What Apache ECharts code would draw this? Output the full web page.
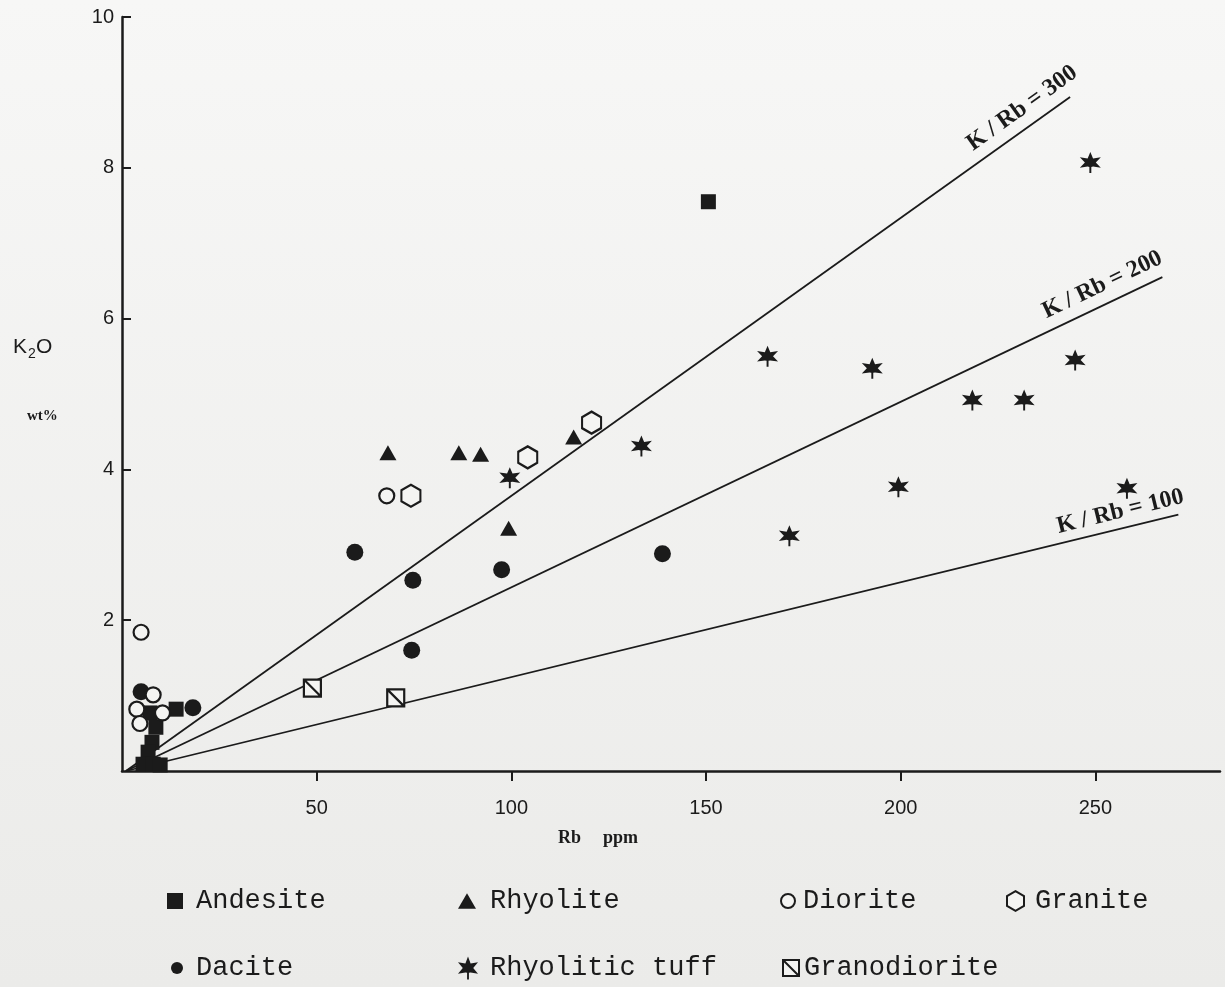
<!DOCTYPE html>
<html>
<head>
<meta charset="utf-8">
<script src="https://cdn.jsdelivr.net/npm/echarts@6/dist/echarts.min.js"></script>
<style>
  html, body { margin: 0; padding: 0; background: #f3f3f1; }
  #chart { width: 1225px; height: 987px; }
</style>
</head>
<body>
<div id="chart"></div>
<script>
// Rb (ppm) against K2O (wt%) for each rock type: [Rb, K2O]
const andesite = [[150.6, 7.55], [13.9, 0.82], [7.2, 0.77], [8.7, 0.58], [7.7, 0.38], [6.7, 0.25], [5.4, 0.09], [8.0, 0.09], [9.8, 0.08]];
const rhyolite = [[68.3, 4.22], [86.5, 4.22], [92.1, 4.20], [99.3, 3.22], [116.0, 4.43]];
const diorite = [[4.9, 1.84], [8.0, 1.01], [3.8, 0.82], [10.4, 0.77], [4.6, 0.63], [68.0, 3.65]];
const granite = [[74.2, 3.65], [104.2, 4.16], [120.6, 4.62]];
const dacite = [[59.8, 2.90], [74.7, 2.53], [97.5, 2.67], [138.8, 2.88], [74.4, 1.60], [4.9, 1.05], [18.2, 0.84]];
const rhyoliticTuff = [[248.7, 8.07], [165.8, 5.50], [192.7, 5.34], [99.6, 3.89], [133.4, 4.31], [218.4, 4.92], [231.7, 4.92], [244.8, 5.45], [199.4, 3.77], [171.4, 3.12], [258.1, 3.75]];
const granodiorite = [[48.9, 1.10], [70.3, 0.97]];

// Constant K/Rb ratio lines: [start, end] in [Rb, K2O]
const ratio300 = [[1, 0], [243.5, 8.94]];
const ratio200 = [[1, 0], [267.2, 6.55]];
const ratio100 = [[1, 0], [271.3, 3.40]];

// Axis tick values
const xTicks = [50, 100, 150, 200, 250];
const yTicks = [2, 4, 6, 8, 10];

// Legend entries: name, left, top, icon width, icon height, gap before the text
const legendItems = [
  ['Andesite', 162, 881, 16, 16, 8],
  ['Rhyolite', 453, 881, 18, 16, 9],
  ['Diorite', 775, 881, 14, 14, 3],
  ['Granite', 1001, 881, 17, 20, 6],
  ['Dacite', 166, 948, 12, 12, 8],
  ['Rhyolitic tuff', 453, 948, 20, 24, 7],
  ['Granodiorite', 777, 948, 16, 16, 0]
];

const INK = '#1b1b1b';
const PAPER = '#f4f4f2';

const SQUARE = 'path://M0 0 L20 0 L20 20 L0 20 Z';
const TRIANGLE = 'path://M10 0 L20 17 L0 17 Z';
const HEXAGON = 'path://M10 0 L18.66 5 L18.66 15 L10 20 L1.34 15 L1.34 5 Z';
const STAR = 'path://M10 0 L12.25 6.1 L18.66 5 L14.5 10 L18.66 15 L12.25 13.9 L10.8 14.2 L10.8 20 L9.2 20 L9.2 14.2 L7.75 13.9 L1.34 15 L5.5 10 L1.34 5 L7.75 6.1 Z';
const BOX_DIAG = 'path://M0 0 L20 0 L20 20 L0 20 Z M0 0 L20 20';

function rockSeries(name, data, symbol, size, open) {
  return {
    type: 'scatter',
    name: name,
    data: data,
    symbol: symbol,
    symbolSize: size,
    symbolKeepAspect: false,
    z: 3,
    silent: true,
    itemStyle: open
      ? { color: PAPER, borderColor: INK, borderWidth: 2.2, opacity: 1 }
      : { color: INK, borderWidth: 0, opacity: 1 }
  };
}

// The label sits on the line's end point; offset is given along / across the rotated text
function ratioSeries(points, text, angle, offset) {
  return {
    type: 'line',
    data: [points[0], {
      value: points[1],
      label: {
        show: true,
        formatter: text,
        position: 'inside',
        rotate: angle,
        offset: offset,
        align: 'center',
        verticalAlign: 'middle',
        fontFamily: 'Liberation Serif',
        fontWeight: 'bold',
        fontSize: 24,
        color: INK
      }
    }],
    showSymbol: true,
    symbol: 'circle',
    symbolSize: 0.01,
    itemStyle: { color: INK },
    lineStyle: { color: INK, width: 1.8 },
    z: 1,
    silent: true
  };
}

const chart = echarts.init(document.getElementById('chart'), null, { renderer: 'canvas' });

chart.setOption({
  animation: false,
  backgroundColor: new echarts.graphic.LinearGradient(0, 0, 0, 1, [
    { offset: 0, color: '#f7f7f6' },
    { offset: 1, color: '#ebebe9' }
  ]),
  grid: { left: 122, right: 5, top: 17, bottom: 216, containLabel: false, outerBoundsMode: 'none' },
  xAxis: {
    type: 'value',
    min: 0,
    max: 282,
    interval: 50,
    axisLine: { lineStyle: { color: INK, width: 2.5 } },
    axisTick: { show: true, inside: false, length: 10, customValues: xTicks, lineStyle: { color: INK, width: 2 } },
    axisLabel: { customValues: xTicks, margin: 27, fontFamily: 'Liberation Sans', fontSize: 20, color: INK },
    splitLine: { show: false }
  },
  yAxis: {
    type: 'value',
    min: 0,
    max: 10,
    interval: 2,
    axisLine: { show: true, lineStyle: { color: INK, width: 2.5 } },
    axisTick: { show: true, inside: true, length: 9, customValues: yTicks, lineStyle: { color: INK, width: 2 } },
    axisLabel: { customValues: yTicks, margin: 8, fontFamily: 'Liberation Sans', fontSize: 20, color: INK },
    splitLine: { show: false }
  },
  legend: legendItems.map(function (item) {
    return {
      data: [item[0]],
      orient: 'horizontal',
      left: item[1],
      top: item[2],
      itemWidth: item[3],
      itemHeight: item[4],
      symbolKeepAspect: true,
      selectedMode: false,
      textStyle: { fontFamily: 'Liberation Mono', fontSize: 27, lineHeight: 30, color: INK, padding: [0, 0, 0, item[5]] }
    };
  }),
  graphic: [
    { type: 'text', x: 13, y: 347, style: { text: 'K', font: '21px "Liberation Sans"', fill: INK, verticalAlign: 'middle' } },
    { type: 'text', x: 28, y: 354, style: { text: '2', font: '14px "Liberation Sans"', fill: INK, verticalAlign: 'middle' } },
    { type: 'text', x: 36, y: 347, style: { text: 'O', font: '21px "Liberation Sans"', fill: INK, verticalAlign: 'middle' } },
    { type: 'text', x: 27, y: 416, style: { text: 'wt%', font: 'bold 15px "Liberation Serif"', fill: INK, verticalAlign: 'middle' } },
    { type: 'text', x: 558, y: 838, style: { text: 'Rb', font: 'bold 18px "Liberation Serif"', fill: INK, verticalAlign: 'middle' } },
    { type: 'text', x: 603, y: 838, style: { text: 'ppm', font: 'bold 18px "Liberation Serif"', fill: INK, verticalAlign: 'middle' } }
  ],
  series: [
    ratioSeries(ratio300, 'K / Rb = 300', 35.5, [-45.6, -18.7]),
    ratioSeries(ratio200, 'K / Rb = 200', 25.5, [-57.5, -18.9]),
    ratioSeries(ratio100, 'K / Rb = 100', 13.7, [-55.6, -16.6]),
    rockSeries('Andesite', andesite, SQUARE, 15, false),
    rockSeries('Dacite', dacite, 'circle', 17, false),
    rockSeries('Rhyolite', rhyolite, TRIANGLE, [17, 15], false),
    rockSeries('Rhyolitic tuff', rhyoliticTuff, STAR, 21, false),
    rockSeries('Granodiorite', granodiorite, BOX_DIAG, 17, true),
    rockSeries('Diorite', diorite, 'circle', 15, true),
    rockSeries('Granite', granite, HEXAGON, [19, 22], true)
  ]
});
</script>
</body>
</html>
